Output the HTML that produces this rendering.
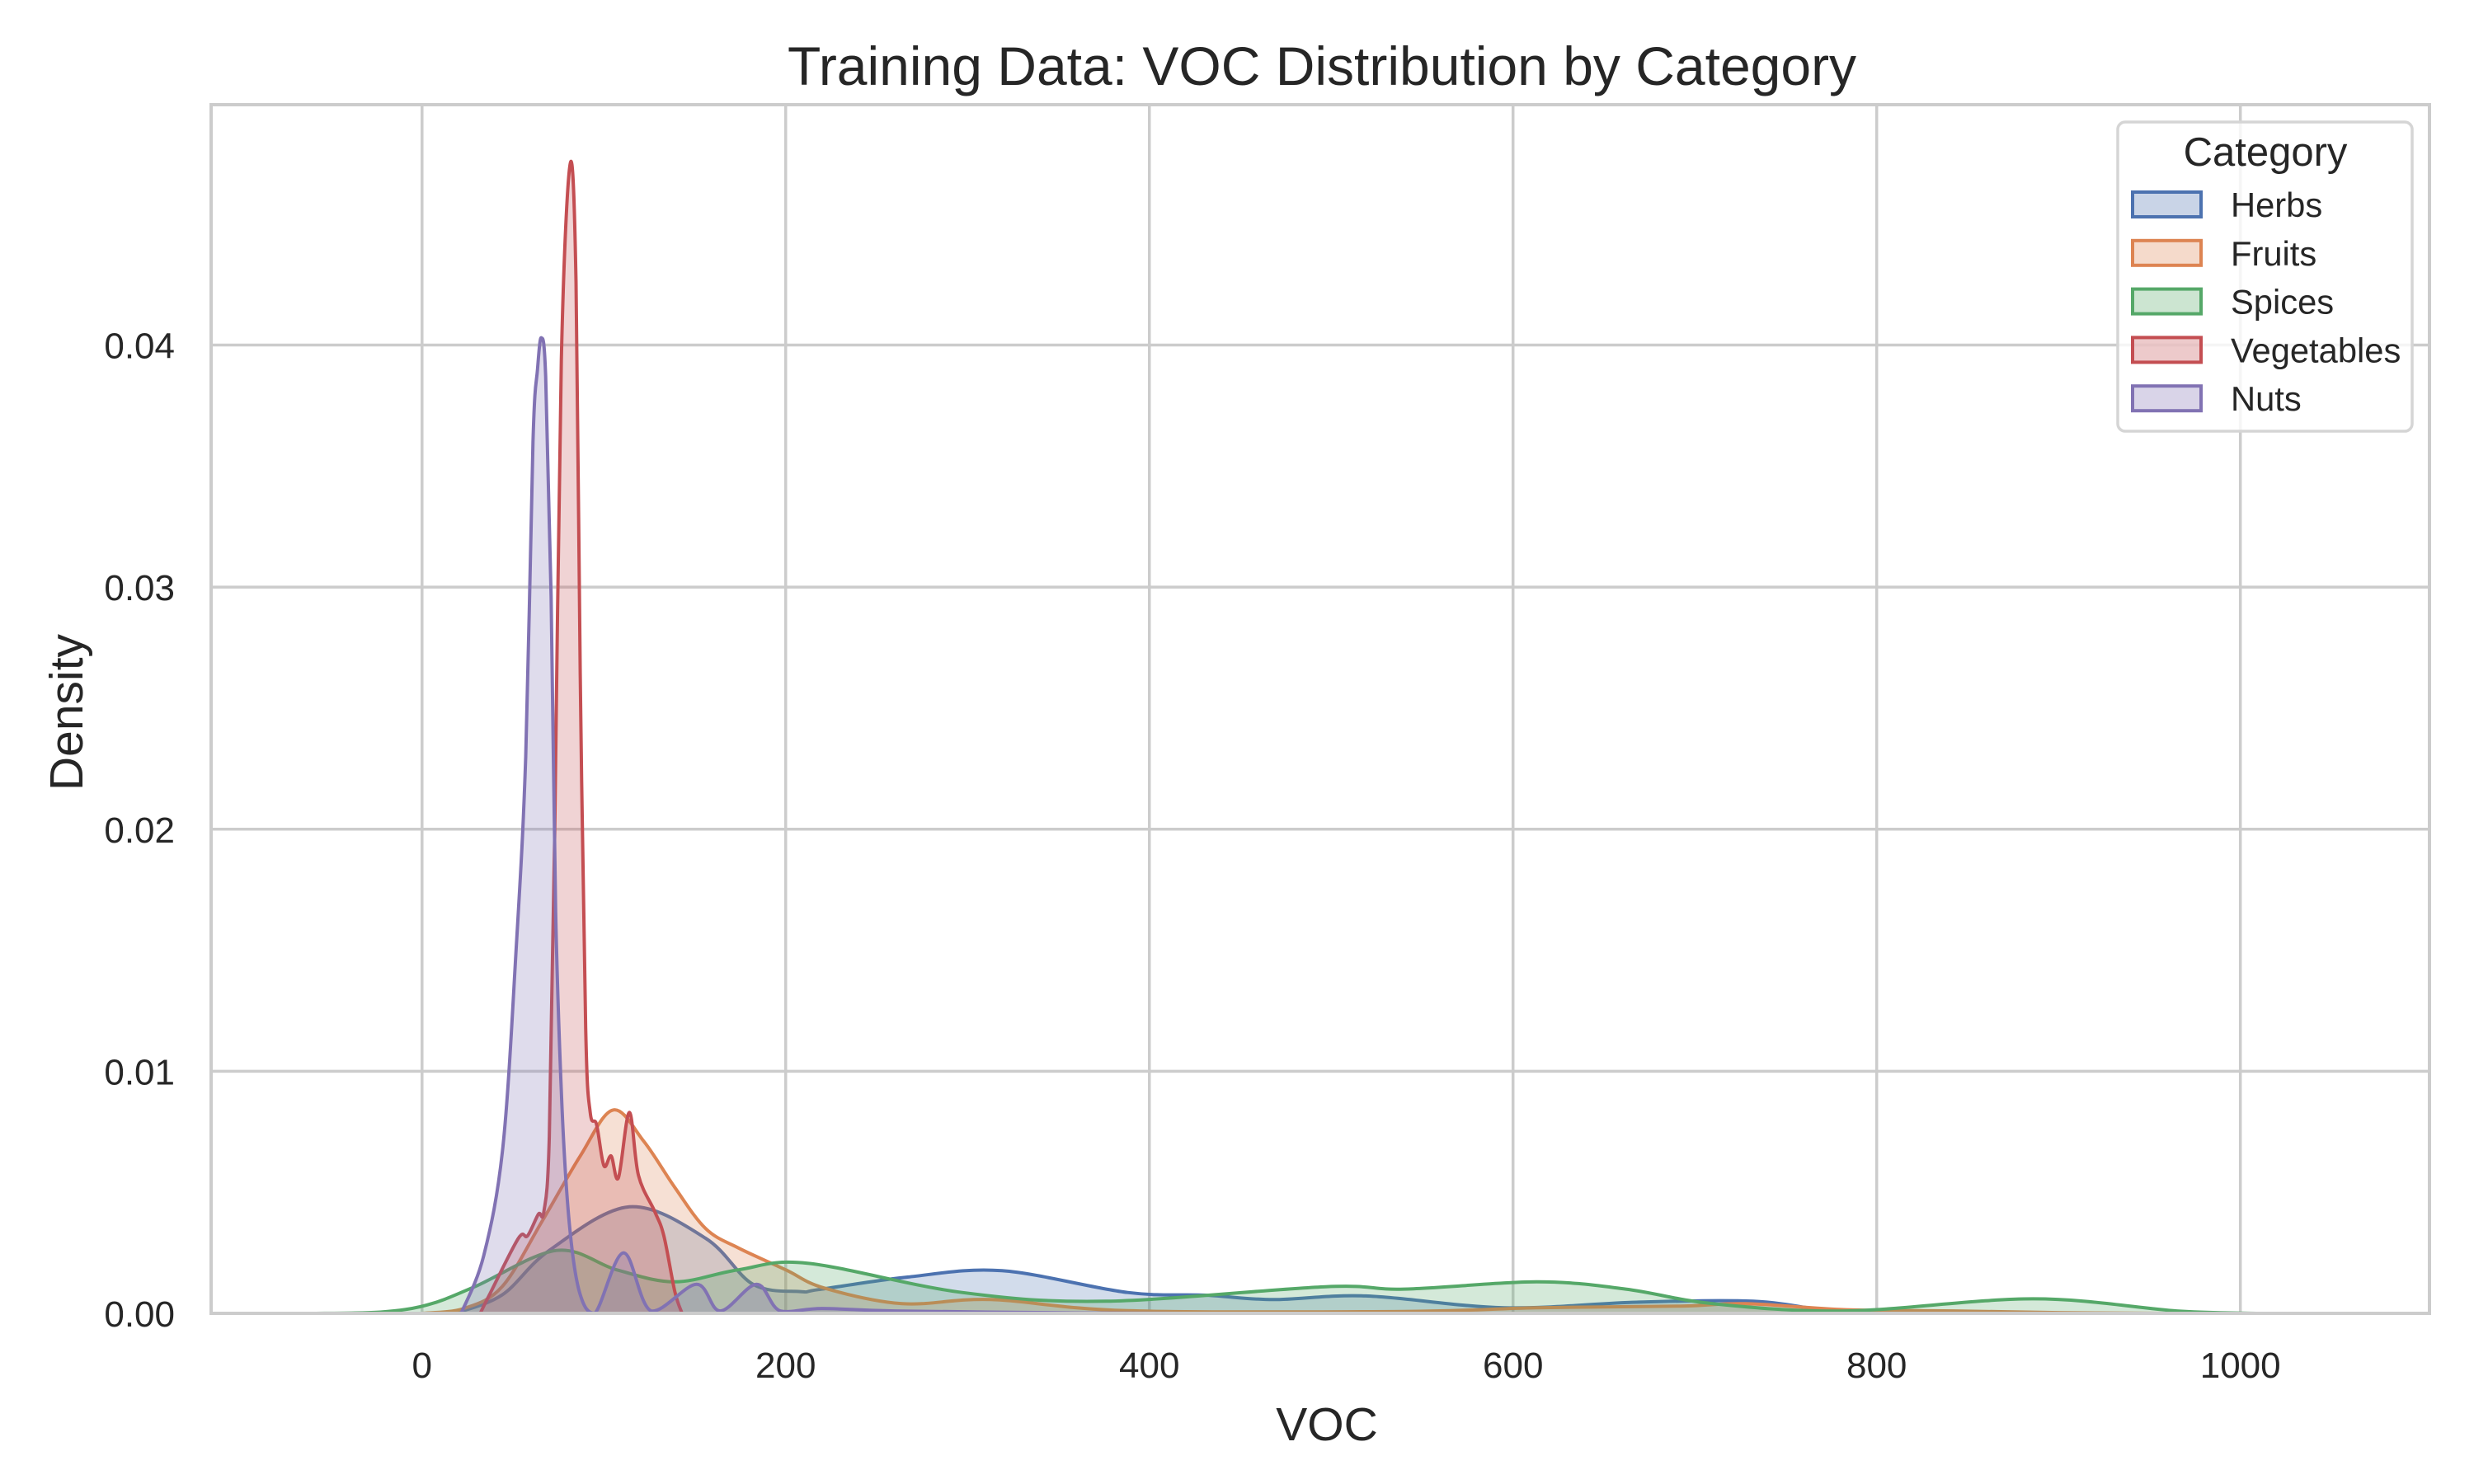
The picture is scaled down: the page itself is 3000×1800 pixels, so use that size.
<!DOCTYPE html>
<html><head><meta charset="utf-8">
<style>
html,body{margin:0;padding:0;background:#fff;}
svg{display:block;font-family:"Liberation Sans",Arial,sans-serif;}
</style></head>
<body>
<svg id="chart" width="3000" height="1800" viewBox="0 0 3000 1800" xmlns="http://www.w3.org/2000/svg">
<rect x="0" y="0" width="3000" height="1800" fill="#fff"/>
<g id="grid"></g>
<g id="series"></g>
<g id="axes"></g>
<g id="legend"></g>
</svg>
<script>
const categories = ["Herbs","Fruits","Spices","Vegetables","Nuts"];
const colors = ["#4c72b0","#dd8452","#55a868","#c44e52","#8172b3"];
const xTicks = [0,200,400,600,800,1000];
const yTicks = [0,0.01,0.02,0.03,0.04];
const yTickLabels = ["0.00","0.01","0.02","0.03","0.04"];

const herbsX = [18,44,70,114,156,182,208,218,267,319,388,431,468,519,595,668,732,774,800];
const herbsY = [0,0.00076,0.0026,0.0044,0.0031,0.0012,0.0009,0.00098,0.0015,0.00176,0.00086,0.00075,0.00057,0.00072,0.00023,0.00046,0.0005,0.0001,0];
const fruitsX = [0,23,44,66,87,105,122,139,156,174,200,221,264,313,388,540,613,692,728,783,843,900,960];
const fruitsY = [0,0.0002,0.0011,0.0038,0.0065,0.0084,0.0071,0.0052,0.0035,0.0027,0.0018,0.00105,0.0004,0.00057,0.00011,0.00008,0.00023,0.0003,0.0004,0.00015,0.0001,0.00003,0];
const spicesX = [-60,-23,3,29,74,107,139,174,212,297,376,497,540,613,662,710,783,886,965,1010];
const spicesY = [0,0.00005,0.00035,0.0011,0.0026,0.0018,0.0013,0.0018,0.00207,0.00086,0.0005,0.0011,0.001,0.0013,0.001,0.0004,0.0001,0.0006,0.0001,0];
const vegX = [32,37,53,58,64,67,70,73,76.6,81.5,84.7,87,90,92.5,96,100,104,108,114,119,128,133,139,143];
const vegY = [0,0.00076,0.0031,0.0032,0.0041,0.0042,0.0073,0.0199,0.0394,0.0475,0.0426,0.0264,0.0118,0.0083,0.0078,0.0061,0.0065,0.0056,0.0083,0.0057,0.0042,0.0032,0.0009,0];
const nutsX = [21.5,34,44.5,51.7,57,61,63.5,65.6,68,71,73.5,77,81,86.5,95,110.8,126,151,164,184,197,220,260,355,420];
const nutsY = [0,0.0024,0.0069,0.015,0.023,0.036,0.039,0.0403,0.0387,0.0296,0.0166,0.0085,0.0037,0.0009,0,0.0025,0.0001,0.0012,0.0001,0.0012,0.0001,0.0002,0.0001,0.00002,0];

const seriesX = [herbsX,fruitsX,spicesX,vegX,nutsX];
const seriesY = [herbsY,fruitsY,spicesY,vegY,nutsY];

const L=256,R=2946,T=127,B=1593;
const xMin=-116, xMax=1104, yMax=0.04993;
function sx(v){return L+(v-xMin)/(xMax-xMin)*(R-L);}
function sy(v){return B-v/yMax*(B-T);}
const NS="http://www.w3.org/2000/svg";
function mk(tag,attrs,parent){const e=document.createElementNS(NS,tag);for(const k in attrs)e.setAttribute(k,attrs[k]);parent.appendChild(e);return e;}

const grid=document.getElementById('grid'), axes=document.getElementById('axes'), ser=document.getElementById('series'), leg=document.getElementById('legend');
xTicks.forEach(t=>{
  const g=mk('line',{x1:sx(t),x2:sx(t),y1:T,y2:B,stroke:'#cccccc','stroke-width':3.5},grid);
  
  
  const tx=mk('text',{x:sx(t),y:B+78,'text-anchor':'middle','font-size':44,fill:'#262626'},axes);
  tx.textContent=t;
  
  
});
yTicks.forEach((t,i)=>{
  const g=mk('line',{x1:L,x2:R,y1:sy(t),y2:sy(t),stroke:'#cccccc','stroke-width':3.5},grid);
  
  
  const tx=mk('text',{x:212,y:sy(t)+16,'text-anchor':'end','font-size':44,fill:'#262626'},axes);
  tx.textContent=yTickLabels[i];
  
  
});

function pathFor(xs,ys){
  const p=xs.map((x,i)=>[sx(x),sy(ys[i])]);
  let d='M'+p[0][0].toFixed(1)+','+p[0][1].toFixed(1);
  for(let i=0;i<p.length-1;i++){
    const p0=p[Math.max(i-1,0)],p1=p[i],p2=p[i+1],p3=p[Math.min(i+2,p.length-1)];
    const c1x=p1[0]+(p2[0]-p0[0])/6, c1y=Math.min(B,p1[1]+(p2[1]-p0[1])/6);
    const c2x=p2[0]-(p3[0]-p1[0])/6, c2y=Math.min(B,p2[1]-(p3[1]-p1[1])/6);
    d+=' C'+c1x.toFixed(1)+','+c1y.toFixed(1)+' '+c2x.toFixed(1)+','+c2y.toFixed(1)+' '+p2[0].toFixed(1)+','+p2[1].toFixed(1);
  }
  return {d,first:p[0],last:p[p.length-1]};
}
categories.forEach((c,i)=>{
  const r=pathFor(seriesX[i],seriesY[i]);
  const fill=mk('path',{d:r.d+' L'+r.last[0]+','+B+' L'+r.first[0]+','+B+' Z',fill:colors[i],'fill-opacity':0.25,stroke:'none'},ser);
  
  
  const line=mk('path',{d:r.d,fill:'none',stroke:colors[i],'stroke-width':4,'stroke-linejoin':'round'},ser);
  
  
});

const frame=mk('rect',{x:L,y:T,width:R-L,height:B-T,fill:'none',stroke:'#cccccc','stroke-width':4},axes);



const title=mk('text',{x:1603,y:103,'text-anchor':'middle','font-size':66,fill:'#262626'},axes);
title.textContent='Training Data: VOC Distribution by Category';


const xl=mk('text',{x:1609,y:1747,'text-anchor':'middle','font-size':57,fill:'#262626'},axes);
xl.textContent='VOC';


const yl=mk('text',{x:0,y:0,'text-anchor':'middle','font-size':57,fill:'#262626',transform:'translate(100,864) rotate(-90)'},axes);
yl.textContent='Density';



const box=mk('rect',{x:2568,y:148,width:357,height:375,rx:9,fill:'#fff','fill-opacity':0.8,stroke:'#d5d5d5','stroke-width':3.5},leg);


const lt=mk('text',{x:2747,y:201,'text-anchor':'middle','font-size':49,fill:'#262626'},leg);
lt.textContent='Category';


categories.forEach((c,i)=>{
  const cy=248+i*58.8;
  const sw=mk('rect',{x:2586,y:cy-15,width:83,height:30,fill:colors[i],'fill-opacity':0.3,stroke:colors[i],'stroke-width':4},leg);
  
  
  const t=mk('text',{x:2705,y:cy+15,'font-size':41.7,fill:'#262626'},leg);
  t.textContent=c;
  
  
});
</script>
</body></html>
